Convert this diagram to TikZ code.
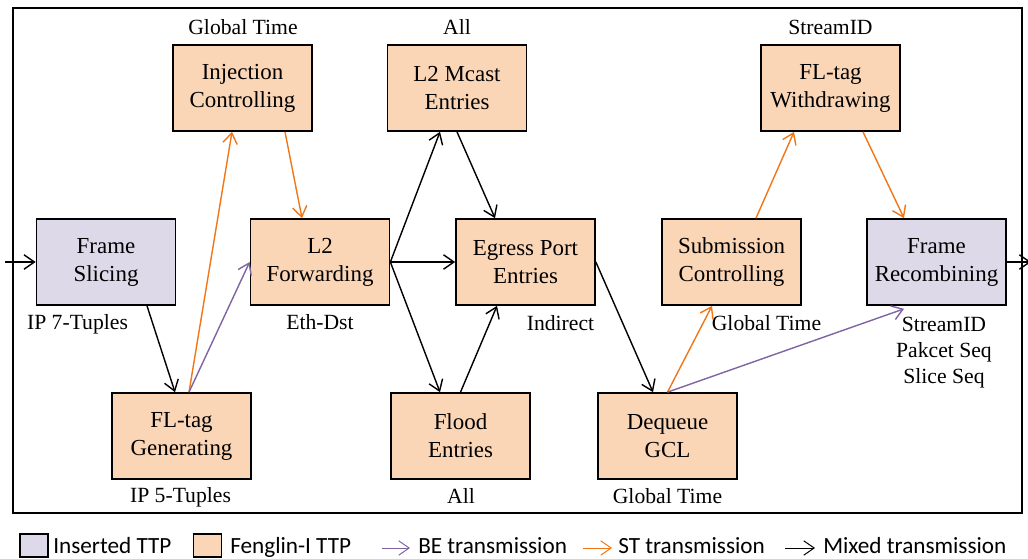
\documentclass[tikz,border=0pt]{standalone}
\usepackage{fontspec}
\setmainfont{Liberation Serif}
\newfontfamily\legendfont{Carlito}
\usetikzlibrary{arrows.meta, calc}
\definecolor{insertedFill}{RGB}{221, 217, 232}
\definecolor{fenglinFill}{RGB}{251, 214, 182}
\definecolor{beLine}{RGB}{128, 100, 162}
\definecolor{stLine}{RGB}{240, 118, 24}

\begin{document}
\begin{tikzpicture}[x=0.025cm, y=-0.025cm,
    ttp/.style={rectangle, draw, line width=1.2pt, minimum width=3.475cm, minimum height=2.15cm, inner sep=0pt, align=center, font=\rmfamily\fontsize{16.3}{19.9}\selectfont},
    inserted/.style={ttp, fill=insertedFill},
    fenglin/.style={ttp, fill=fenglinFill},
    lbl/.style={inner sep=0pt, anchor=base, font=\rmfamily\fontsize{15.4}{18.5}\selectfont},
    mixed/.style={-{Straight Barb[length=2.6mm, width=3.6mm]}, line width=1pt},
    beflow/.style={mixed, beLine},
    stflow/.style={mixed, stLine},
    swatch/.style={rectangle, draw, line width=0.9pt, minimum width=0.7cm, minimum height=0.575cm, inner sep=0pt},
    legtext/.style={inner sep=0pt, anchor=base west, font=\legendfont\fontsize{16.5}{19}\selectfont}]

    \useasboundingbox (0,0) rectangle (1028,559);
    \draw[line width=1.3pt] (13,8) rectangle (1022,513);

    % pipeline blocks
    \node[inserted] (slicing) at (106,262) {Frame\\Slicing};
    \node[fenglin] (gen) at (181.5,436) {FL-tag\\Generating};
    \node[fenglin] (inj) at (242.5,88) {Injection\\Controlling};
    \node[fenglin] (fwd) at (320,262) {L2\\Forwarding};
    \node[fenglin] (mcast) at (457,88) {L2 Mcast\\Entries};
    \node[fenglin] (egress) at (525.5,262) {Egress Port\\Entries};
    \node[fenglin] (flood) at (460.5,436) {Flood\\Entries};
    \node[fenglin] (deq) at (667.5,436) {Dequeue\\GCL};
    \node[fenglin] (subm) at (731.5,262) {Submission\\Controlling};
    \node[fenglin] (withd) at (830.5,88) {FL-tag\\Withdrawing};
    \node[inserted] (recomb) at (936.5,262) {Frame\\Recombining};

    % match fields
    \node[lbl] (injKey) at (243,34) {Global Time};
    \node[lbl] (mcastKey) at (457,34) {All};
    \node[lbl] (withdKey) at (830.5,34) {StreamID};
    \node[lbl] (slicingKey) at (77.5,329) {IP 7-Tuples};
    \node[lbl] (fwdKey) at (320,329) {Eth-Dst};
    \node[lbl] (egressKey) at (560.5,330) {Indirect};
    \node[lbl] (submKey) at (766.5,330) {Global Time};
    \node[lbl, anchor=center, align=center] (recombKey) at (944,353) {StreamID\\Pakcet Seq\\Slice Seq};
    \node[lbl] (genKey) at (180.5,502) {IP 5-Tuples};
    \node[lbl] (floodKey) at (461,503) {All};
    \node[lbl] (deqKey) at (667.5,503) {Global Time};

    \coordinate (entrada) at (5,262);
    \coordinate (salida) at (1031,262);

    \draw[mixed] (entrada) -- (slicing);
    \draw[mixed] ($(slicing.south)+(41,0)$) -- ($(gen.north)+(-6.5,0)$);
    \draw[stflow] ($(gen.north)+(7.5,0)$) -- ($(inj.south)+(-10.5,0)$);
    \draw[beflow] ($(gen.north)+(7.5,0)$) -- (fwd.west);
    \draw[stflow] ($(inj.south)+(42.5,0)$) -- ($(fwd.north)+(-18,0)$);
    \draw[mixed] (fwd.east) -- ($(mcast.south)+(-17,0)$);
    \draw[mixed] (fwd.east) -- (egress.west);
    \draw[mixed] (fwd.east) -- ($(flood.north)+(-20.5,0)$);
    \draw[mixed] (mcast.south) -- ($(egress.north)+(-30.5,0)$);
    \draw[mixed] (flood.north) -- ($(egress.south)+(-28.5,0)$);
    \draw[mixed] (egress.east) -- ($(deq.north)+(-14.5,0)$);
    \draw[stflow] (deq.north) -- ($(subm.south)+(-19.5,0)$);
    \draw[beflow] (deq.north) -- ($(recomb.south)+(-32.5,3)$);
    \draw[stflow] ($(subm.north)+(24.5,0)$) -- ($(withd.south)+(-36.5,0)$);
    \draw[stflow] ($(withd.south)+(32.5,0)$) -- ($(recomb.north)+(-32.5,0)$);
    \draw[mixed] (recomb) -- (salida);

    % legend
    \node[swatch, fill=insertedFill] (insSwatch) at (34,545.5) {};
    \node[legtext] (insText) at (53,553) {Inserted TTP};
    \node[swatch, fill=fenglinFill] (fenSwatch) at (207.5,545.5) {};
    \node[legtext] (fenText) at (230,553) {Fenglin-I TTP};
    \coordinate (beA) at (382,548);
    \coordinate (beB) at (410,548);
    \draw[beflow, line width=0.7pt] (beA) -- (beB);
    \node[legtext] (beText) at (418,553) {BE transmission};
    \coordinate (stA) at (583,548);
    \coordinate (stB) at (612,548);
    \draw[stflow, line width=0.7pt] (stA) -- (stB);
    \node[legtext] (stText) at (618,553) {ST transmission};
    \coordinate (mxA) at (785,548);
    \coordinate (mxB) at (815,548);
    \draw[mixed, line width=0.7pt] (mxA) -- (mxB);
    \node[legtext] (mxText) at (823,553) {Mixed transmission};
\end{tikzpicture}
\end{document}
